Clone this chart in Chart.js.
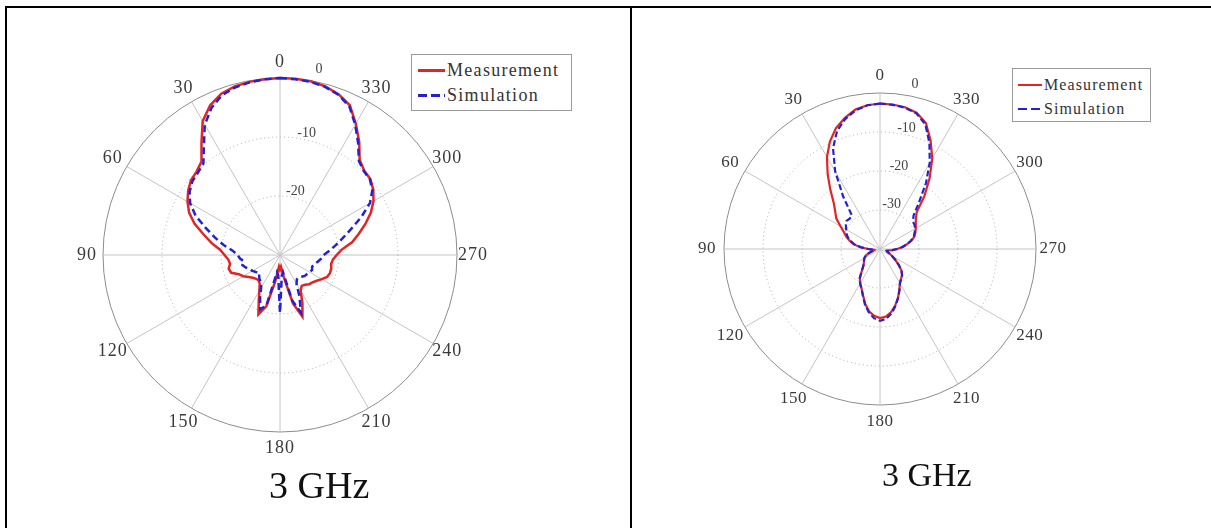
<!DOCTYPE html>
<html>
<head>
<meta charset="utf-8">
<script src="https://cdn.jsdelivr.net/npm/chart.js@4.4.1/dist/chart.umd.min.js"></script>
<style>
  body { margin: 0; background: #fff; width: 1211px; height: 528px; position: relative; overflow: hidden; }
  .rule { position: absolute; background: #000; }
  canvas { position: absolute; }
  .legend { position: absolute; background: #fff; border: 1px solid #9a9a9a; box-sizing: border-box;
            font-family: "Liberation Serif", "Times New Roman", serif; color: #333; }
  .legend .row { display: flex; align-items: center; white-space: nowrap; }
  .legend .sample { display: inline-block; margin-right: 2px; }
  .caption { position: absolute; font-family: "Liberation Serif", "Times New Roman", serif; color: #111; white-space: nowrap; }
</style>
</head>
<body>
<div class="rule" style="left:5px;top:6px;width:1206px;height:2px"></div>
<div class="rule" style="left:5px;top:6px;width:2px;height:522px"></div>
<div class="rule" style="left:630px;top:6px;width:2px;height:522px"></div>

<canvas id="leftChart" width="623" height="520" style="left:7px;top:8px"></canvas>
<canvas id="rightChart" width="578" height="520" style="left:633px;top:8px"></canvas>

<div class="legend" id="leftLegend" style="left:411px;top:54px;width:161px;height:57px;padding:3px 0 0 6px;font-size:18px;letter-spacing:1.3px"></div>
<div class="legend" id="rightLegend" style="left:1012px;top:68px;width:139px;height:54px;padding:4px 0 0 5px;font-size:16px;letter-spacing:1.1px"></div>

<div class="caption" style="left:269px;top:466px;font-size:38px;line-height:38px">3 GHz</div>
<div class="caption" style="left:882px;top:458px;font-size:34px;line-height:34px">3 GHz</div>

<script>
// angles in degrees, counter-clockwise from the top (0 = up, 90 = left)
const angles = [0, 5, 10, 15, 20, 25, 30, 35, 40, 45, 50, 55, 60, 65, 70, 75, 80, 85,
  90, 95, 100, 105, 110, 115, 120, 125, 130, 135, 140, 145, 150, 155, 160, 165, 170, 175,
  180, 185, 190, 195, 200, 205, 210, 215, 220, 225, 230, 235, 240, 245, 250, 255, 260, 265,
  270, 275, 280, 285, 290, 295, 300, 305, 310, 315, 320, 325, 330, 335, 340, 345, 350, 355];
const angleLabels = [0, 30, 60, 90, 120, 150, 180, 210, 240, 270, 300, 330];

// left plot, dB
const leftMeasured = [0, -0.1, -0.2, -0.4, -0.9, -2.0, -3.8, -6.8, -9.3, -10.0, -10.3, -11.0,
  -11.9, -13.0, -14.6, -16.6, -18.2, -19.8, -20.6, -21.2, -21.4, -21.0, -21.2, -22.3,
  -22.8, -23.5, -24.0, -24.3, -24.4, -24.0, -23.0, -21.5, -19.3, -21.0, -25.5, -28.0,
  -27.5, -28.0, -26.0, -21.5, -18.9, -21.0, -23.0, -23.6, -23.4, -23.0, -22.8, -22.4,
  -21.8, -21.2, -21.0, -21.0, -21.2, -21.0, -20.4, -19.5, -17.6, -16.2, -14.6, -13.0,
  -11.7, -10.7, -10.0, -9.8, -9.0, -6.6, -4.3, -2.0, -1.0, -0.4, -0.1, 0];
const leftSimulated = [0, -0.1, -0.3, -0.6, -1.2, -2.5, -4.5, -7.5, -9.8, -10.3, -10.6, -11.3,
  -12.4, -14.2, -16.6, -18.6, -20.3, -22.0, -22.8, -23.2, -23.8, -23.4, -23.8, -24.3,
  -24.6, -25.0, -25.4, -25.0, -24.6, -24.4, -23.6, -22.0, -20.2, -21.2, -27.0, -26.5,
  -20.2, -26.5, -27.0, -22.0, -19.6, -22.2, -24.4, -25.0, -25.0, -24.8, -24.5, -24.4,
  -24.2, -24.0, -24.2, -24.0, -23.5, -23.0, -22.6, -21.6, -20.4, -19.0, -17.2, -14.8,
  -12.4, -10.9, -10.1, -9.9, -9.2, -6.9, -4.5, -2.2, -1.1, -0.5, -0.2, -0.1];
const leftTicks = [-30, -20, -10, 0];

// right plot, dB
const rightMeasured = [-2.7, -3.0, -3.7, -5.2, -7.0, -9.6, -12.8, -16.6, -20.2, -23.2, -25.0, -26.3,
  -28.3, -29.8, -30.8, -32.0, -33.2, -35.0, -37.0, -38.2, -38.5, -38.0, -37.0, -36.0,
  -35.4, -35.0, -34.6, -34.0, -32.8, -31.0, -29.8, -28.8, -27.3, -25.4, -23.8, -22.8,
  -22.3, -22.6, -23.6, -25.0, -26.6, -28.3, -29.8, -30.6, -31.2, -32.2, -33.8, -35.3,
  -36.5, -37.4, -38.0, -38.2, -37.8, -36.8, -35.6, -34.2, -33.0, -31.6, -30.6, -30.0,
  -29.4, -28.8, -28.0, -26.7, -22.3, -17.8, -13.2, -9.3, -5.6, -3.8, -3.1, -2.8];
const rightSimulated = [-2.7, -3.0, -3.9, -5.5, -7.8, -11.5, -17.0, -23.5, -28.8, -29.0, -28.8, -29.3,
  -30.0, -30.5, -31.2, -32.2, -33.4, -35.2, -37.0, -38.2, -38.5, -38.0, -37.0, -36.0,
  -35.4, -35.0, -34.6, -34.0, -32.8, -31.0, -29.8, -28.8, -27.2, -25.2, -23.5, -22.2,
  -21.6, -22.0, -23.2, -24.8, -26.5, -28.2, -29.8, -30.6, -31.2, -32.2, -33.8, -35.3,
  -36.5, -37.4, -38.0, -38.2, -37.8, -36.8, -35.6, -34.2, -33.0, -31.8, -30.8, -30.2,
  -29.6, -29.2, -29.0, -27.8, -24.5, -19.5, -14.5, -10.0, -6.0, -4.0, -3.2, -2.9];
const rightTicks = [-40, -30, -20, -10, 0];

const RED = 'rgb(226,36,36)';
const BLUE = 'rgb(34,34,212)';

// radar goes clockwise, the plot goes counter-clockwise: walk the arrays backwards
const order = angles.map((a, i) => (angles.length - i) % angles.length);
const reorder = arr => order.map(k => arr[k]);

const polarText = {
  id: 'polarText',
  beforeDatasetsDraw(chart, args, opts) {
    const r = chart.scales.r;
    const ctx = chart.ctx;
    ctx.save();
    ctx.font = opts.tickFont;
    ctx.fillStyle = '#444';
    ctx.textAlign = 'center';
    ctx.textBaseline = 'middle';
    opts.ticks.forEach(v => {
      if (v === r.min) return;
      const gap = v === r.max ? opts.outerGap : opts.tickGap;
      const p = r.getPointPosition(0, r.getDistanceFromCenterForValue(v) + gap, opts.tickAngle * Math.PI / 180);
      ctx.fillText(String(v), p.x + 3, p.y);
    });
    ctx.restore();
  },
  afterDatasetsDraw(chart, args, opts) {
    const r = chart.scales.r;
    const ctx = chart.ctx;
    const labels = chart.data.labels;
    ctx.save();
    ctx.font = opts.labelFont;
    ctx.letterSpacing = opts.spacing;
    ctx.fillStyle = '#3a3a3a';
    ctx.textAlign = 'center';
    ctx.textBaseline = 'middle';
    angleLabels.forEach(a => {
      const p = r.getPointPosition(labels.indexOf(a), r.drawingArea + opts.labelPad);
      ctx.fillText(String(a), p.x, p.y);
    });
    ctx.restore();
  }
};

function makePolar(id, measured, simulated, ticks, look) {
  return new Chart(document.getElementById(id), {
    type: 'radar',
    data: {
      labels: reorder(angles),
      datasets: [{
        label: 'Measurement',
        data: reorder(measured),
        borderColor: RED,
        borderWidth: look.width,
        fill: false,
        order: 2
      }, {
        label: 'Simulation',
        data: reorder(simulated),
        borderColor: BLUE,
        borderWidth: look.width,
        borderDash: look.dash,
        fill: false,
        order: 1
      }]
    },
    options: {
      responsive: false,
      animation: false,
      layout: { padding: look.padding },
      elements: { point: { radius: 0 }, line: { tension: 0 } },
      plugins: {
        legend: { display: false },
        tooltip: { enabled: false },
        polarText: {
          ticks: ticks,
          tickFont: look.tickFont,
          tickGap: 6,
          outerGap: 12,
          tickAngle: 11,
          labelFont: look.labelFont,
          spacing: look.spacing,
          labelPad: look.labelPad
        }
      },
      scales: {
        r: {
          min: ticks[0],
          max: ticks[ticks.length - 1],
          startAngle: 0,
          ticks: { display: false, stepSize: 10 },
          pointLabels: { display: false },
          grid: {
            circular: true,
            color: c => c.tick && c.tick.value === ticks[ticks.length - 1] ? '#8c8c8c' : '#a8a8a8',
            lineWidth: 1
          },
          border: {
            dash: c => c.tick && c.tick.value === ticks[ticks.length - 1] ? [] : [1, 3]
          },
          angleLines: {
            color: '#c4c4c4',
            lineWidth: c => angleLabels.includes(c.label) ? 1 : 0
          }
        }
      }
    },
    plugins: [polarText]
  });
}

function buildLegend(chart, boxId, sampleW, rowH, lineW) {
  const box = document.getElementById(boxId);
  chart.data.datasets.forEach(ds => {
    const row = document.createElement('div');
    row.className = 'row';
    row.style.height = rowH + 'px';
    const sample = document.createElement('span');
    sample.className = 'sample';
    sample.style.width = sampleW + 'px';
    sample.style.height = lineW + 'px';
    sample.style.background = ds.borderDash
      ? 'repeating-linear-gradient(to right, ' + ds.borderColor + ' 0 9px, transparent 9px 13px)'
      : ds.borderColor;
    const text = document.createElement('span');
    text.textContent = ds.label;
    row.appendChild(sample);
    row.appendChild(text);
    box.appendChild(row);
  });
}

const leftChart = makePolar('leftChart', leftMeasured, leftSimulated, leftTicks, {
  width: 2.5, dash: [7, 4],
  padding: { left: 96, top: 70, right: 173, bottom: 96 },
  tickFont: '14px "Liberation Serif", serif',
  labelFont: '18px "Liberation Serif", serif', spacing: '1px', labelPad: 16
});
const rightChart = makePolar('rightChart', rightMeasured, rightSimulated, rightTicks, {
  width: 2.2, dash: [6, 3],
  padding: { left: 91, top: 85, right: 175, bottom: 123 },
  tickFont: '14px "Liberation Serif", serif',
  labelFont: '17px "Liberation Serif", serif', spacing: '0.5px', labelPad: 17
});

buildLegend(leftChart, 'leftLegend', 27, 25, 2.5);
buildLegend(rightChart, 'rightLegend', 24, 24, 2.2);
</script>
</body>
</html>
